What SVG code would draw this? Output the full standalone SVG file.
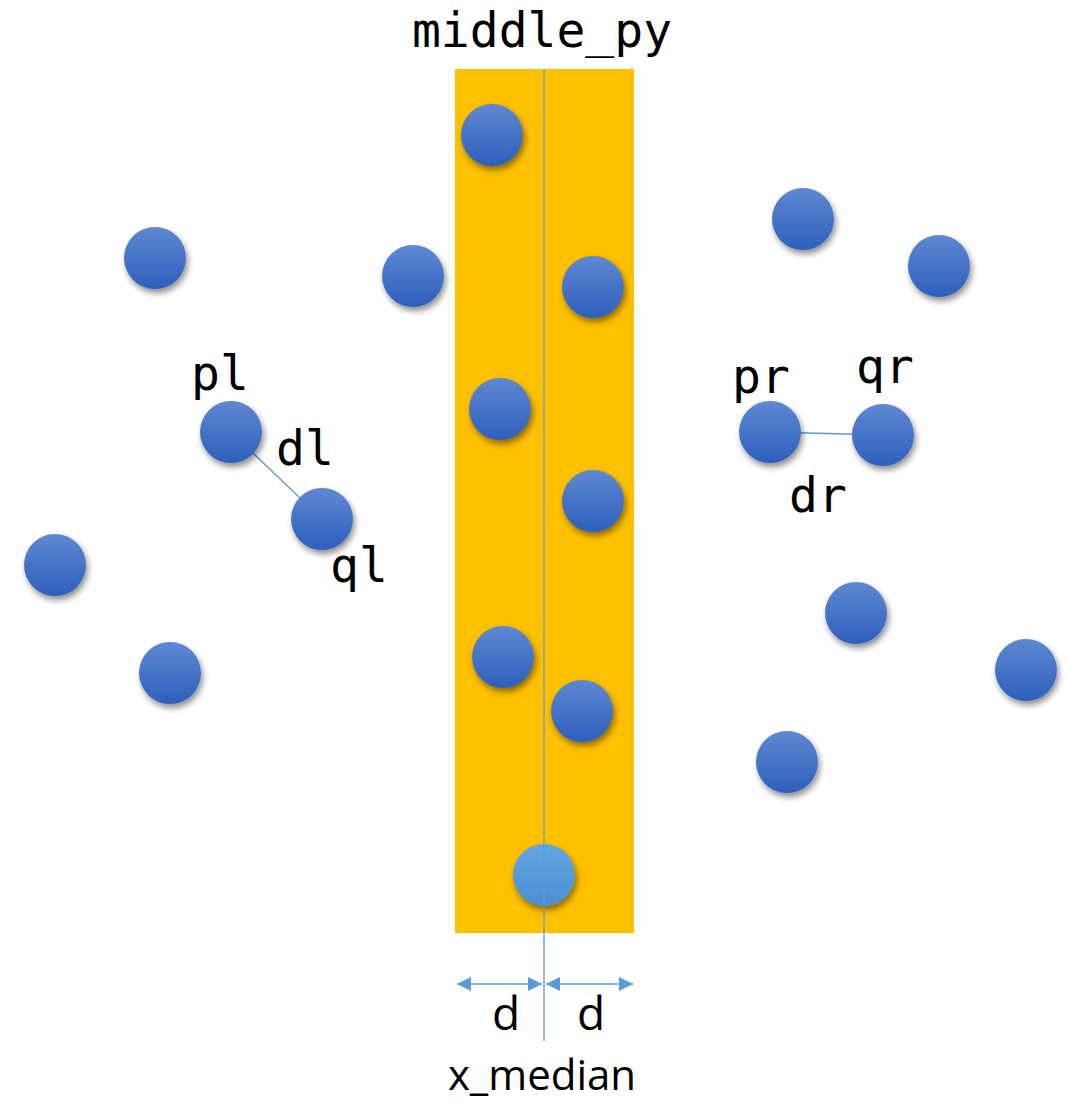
<svg xmlns="http://www.w3.org/2000/svg" width="1068" height="1104" viewBox="0 0 1068 1104">
<defs>
<linearGradient id="gb" x1="0" y1="0" x2="0" y2="1">
<stop offset="0" stop-color="#5f88d2"/>
<stop offset="1" stop-color="#2d5fbc"/>
</linearGradient>
<linearGradient id="gl" x1="0" y1="0" x2="0" y2="1">
<stop offset="0" stop-color="#64a6e2"/>
<stop offset="1" stop-color="#4a8ed3"/>
</linearGradient>
<filter id="sh" x="-40%" y="-40%" width="190%" height="190%">
<feGaussianBlur in="SourceAlpha" stdDeviation="3"/>
<feOffset dx="2" dy="4" result="b"/>
<feComponentTransfer in="b" result="s"><feFuncA type="linear" slope="0.45"/></feComponentTransfer>
<feMerge><feMergeNode in="s"/><feMergeNode in="SourceGraphic"/></feMerge>
</filter>
<marker id="ah" viewBox="0 0 10 10" refX="10" refY="5" markerWidth="17" markerHeight="14" markerUnits="userSpaceOnUse" orient="auto-start-reverse">
<path d="M0,0 L10,5 L0,10 z" fill="#5b9bd5"/>
</marker>
<style>
.pt{fill:url(#gb);filter:url(#sh)}
.ptl{fill:url(#gl);filter:url(#sh)}
.mono{font-family:"DejaVu Sans Mono","Liberation Mono",monospace;font-size:48px;fill:#000}
.sans{font-family:"Open Sans","Liberation Sans",sans-serif;fill:#000}
.ln{stroke:#5b9bd5;stroke-width:1.3;fill:none}
</style>
</defs>
<rect width="1068" height="1104" fill="#fff"/>
<g id="strip"><rect x="455" y="69" width="179" height="864" fill="#ffc000"/></g>
<g id="connectors">
<line class="ln" x1="231" y1="432" x2="322" y2="519"/>
<line class="ln" x1="770" y1="432" x2="883" y2="435"/>
<line class="ln" x1="457" y1="984" x2="542" y2="984" marker-start="url(#ah)" marker-end="url(#ah)"/>
<line class="ln" x1="546" y1="984" x2="633" y2="984" marker-start="url(#ah)" marker-end="url(#ah)"/>
</g>
<g id="points">
<g id="n1"><circle class="pt" cx="492" cy="135" r="31"/></g>
<g id="n2"><circle class="pt" cx="155" cy="258" r="31"/></g>
<g id="n3"><circle class="pt" cx="413" cy="276" r="31"/></g>
<g id="n4"><circle class="pt" cx="593" cy="287" r="31"/></g>
<g id="n5"><circle class="pt" cx="803" cy="219" r="31"/></g>
<g id="n6"><circle class="pt" cx="939" cy="266" r="31"/></g>
<g id="pl"><circle class="pt" cx="231" cy="432" r="31"/></g>
<g id="n8"><circle class="pt" cx="500" cy="409" r="31"/></g>
<g id="pr"><circle class="pt" cx="770" cy="432" r="31"/></g>
<g id="qr"><circle class="pt" cx="883" cy="435" r="31"/></g>
<g id="n11"><circle class="pt" cx="593" cy="501" r="31"/></g>
<g id="ql"><circle class="pt" cx="322" cy="519" r="31"/></g>
<g id="n13"><circle class="pt" cx="55" cy="565" r="31"/></g>
<g id="n14"><circle class="pt" cx="856" cy="613" r="31"/></g>
<g id="n15"><circle class="pt" cx="170" cy="673" r="31"/></g>
<g id="n16"><circle class="pt" cx="503" cy="657" r="31"/></g>
<g id="n17"><circle class="pt" cx="1026" cy="670" r="31"/></g>
<g id="n18"><circle class="pt" cx="582" cy="711" r="31"/></g>
<g id="n19"><circle class="pt" cx="787" cy="762" r="31"/></g>
<g id="n20"><circle class="ptl" cx="544" cy="875" r="31"/></g>
</g>
<g id="median"><line x1="544" y1="69" x2="544" y2="1041" stroke="#5b9bd5" stroke-width="1.3"/></g>
<g id="labels">
<text class="mono" x="542" y="47" text-anchor="middle">middle_py</text>
<text class="mono" x="220" y="390" text-anchor="middle">pl</text>
<text class="mono" x="305" y="465" text-anchor="middle">dl</text>
<text class="mono" x="359" y="582" text-anchor="middle">ql</text>
<text class="mono" x="761" y="393" text-anchor="middle">pr</text>
<text class="mono" x="885" y="383" text-anchor="middle">qr</text>
<text class="mono" x="818" y="512" text-anchor="middle">dr</text>
<text class="sans" x="506" y="1030" font-size="46" text-anchor="middle">d</text>
<text class="sans" x="591" y="1030" font-size="46" text-anchor="middle">d</text>
<text class="sans" x="542" y="1090" font-size="42" text-anchor="middle">x_median</text>
</g>
</svg>
